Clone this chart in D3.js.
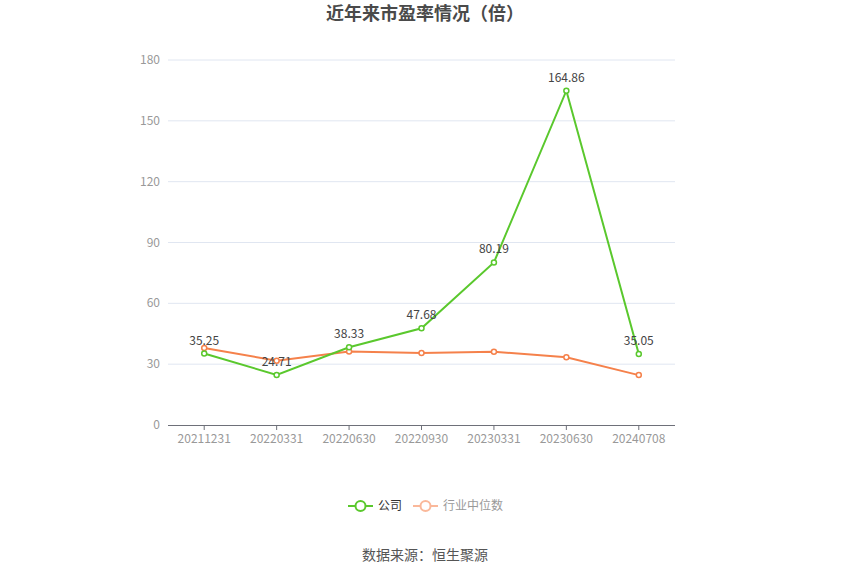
<!DOCTYPE html>
<html><head><meta charset="utf-8">
<script src="https://cdn.jsdelivr.net/npm/d3@7/dist/d3.min.js"></script>
<style>body{margin:0;background:#fff;}svg{display:block;font-family:"Noto Sans CJK SC","Microsoft YaHei",sans-serif;}</style>
</head><body><svg id="c" width="850" height="575"></svg>
<script>
const categories = ["20211231","20220331","20220630","20220930","20230331","20230630","20240708"];
const companyValues = [35.25, 24.71, 38.33, 47.68, 80.19, 164.86, 35.05];
const industryValues = [38.0, 31.7, 36.2, 35.5, 36.1, 33.4, 24.6];
const yTicks = [0, 30, 60, 90, 120, 150, 180];
const seriesNames = ["公司", "行业中位数"];
const title = "近年来市盈率情况（倍）";
const source = "数据来源：恒生聚源";

const svg = d3.select("#c");
const pLeft = 168, pRight = 675, pTop = 60, pBottom = 425;
const x = d3.scaleBand().domain(categories).range([pLeft, pRight]);
const y = d3.scaleLinear().domain([0, 180]).range([pBottom, pTop]);
const green = "#5ac82d", orange = "#f5814b";

svg.append("text").attr("x", 425).attr("y", 20).attr("text-anchor", "middle")
  .attr("font-size", 18).attr("font-weight", "bold").attr("fill", "#4a4a4a").text(title);

// grid
svg.append("g").selectAll("line").data(yTicks.filter(d => d > 0)).join("line")
  .attr("x1", pLeft).attr("x2", pRight).attr("y1", d => y(d)).attr("y2", d => y(d))
  .attr("stroke", "#e0e6f1").attr("stroke-width", 1);
// y labels
svg.append("g").selectAll("text").data(yTicks).join("text")
  .attr("x", pLeft - 8).attr("y", d => y(d) + 4).attr("text-anchor", "end")
  .attr("font-size", 12).attr("fill", "#999").text(d => d);
// x axis
svg.append("line").attr("x1", pLeft).attr("x2", pRight).attr("y1", pBottom + 0.5).attr("y2", pBottom + 0.5)
  .attr("stroke", "#6e7079");
svg.append("g").selectAll("line").data(categories).join("line")
  .attr("x1", d => x(d) + x.bandwidth()/2).attr("x2", d => x(d) + x.bandwidth()/2)
  .attr("y1", pBottom).attr("y2", pBottom + 5).attr("stroke", "#6e7079");
svg.append("g").selectAll("text").data(categories).join("text")
  .attr("x", d => x(d) + x.bandwidth()/2).attr("y", pBottom + 18).attr("text-anchor", "middle")
  .attr("font-size", 12).attr("fill", "#999").text(d => d);

const cx = (d, i) => x(categories[i]) + x.bandwidth()/2;
const line = d3.line().x((d, i) => cx(d, i)).y(d => y(d));

function drawSeries(vals, color) {
  svg.append("path").datum(vals).attr("d", line).attr("fill", "none")
    .attr("stroke", color).attr("stroke-width", 2);
  svg.append("g").selectAll("circle").data(vals).join("circle")
    .attr("cx", cx).attr("cy", d => y(d)).attr("r", 2.5)
    .attr("fill", "#fff").attr("stroke", color).attr("stroke-width", 1.5);
}
drawSeries(industryValues, orange);
drawSeries(companyValues, green);

svg.append("g").selectAll("text").data(companyValues).join("text")
  .attr("x", cx).attr("y", d => y(d) - 9).attr("text-anchor", "middle")
  .attr("font-size", 12).attr("fill", "#444").text(d => d.toFixed(2));

// legend
const lg = svg.append("g");
lg.append("line").attr("x1", 348).attr("x2", 373).attr("y1", 506).attr("y2", 506).attr("stroke", green).attr("stroke-width", 2);
lg.append("circle").attr("cx", 360.5).attr("cy", 506).attr("r", 5).attr("fill", "#fff").attr("stroke", green).attr("stroke-width", 2);
lg.append("text").attr("x", 378).attr("y", 510).attr("font-size", 12).attr("fill", "#333").text(seriesNames[0]);
lg.append("line").attr("x1", 413).attr("x2", 438).attr("y1", 506).attr("y2", 506).attr("stroke", "#fab89a").attr("stroke-width", 2);
lg.append("circle").attr("cx", 425.5).attr("cy", 506).attr("r", 5).attr("fill", "#fff").attr("stroke", "#fab89a").attr("stroke-width", 2);
lg.append("text").attr("x", 443).attr("y", 510).attr("font-size", 12).attr("fill", "#999").text(seriesNames[1]);

svg.append("text").attr("x", 425).attr("y", 560).attr("text-anchor", "middle")
  .attr("font-size", 14).attr("fill", "#555").text(source);
</script></body></html>
